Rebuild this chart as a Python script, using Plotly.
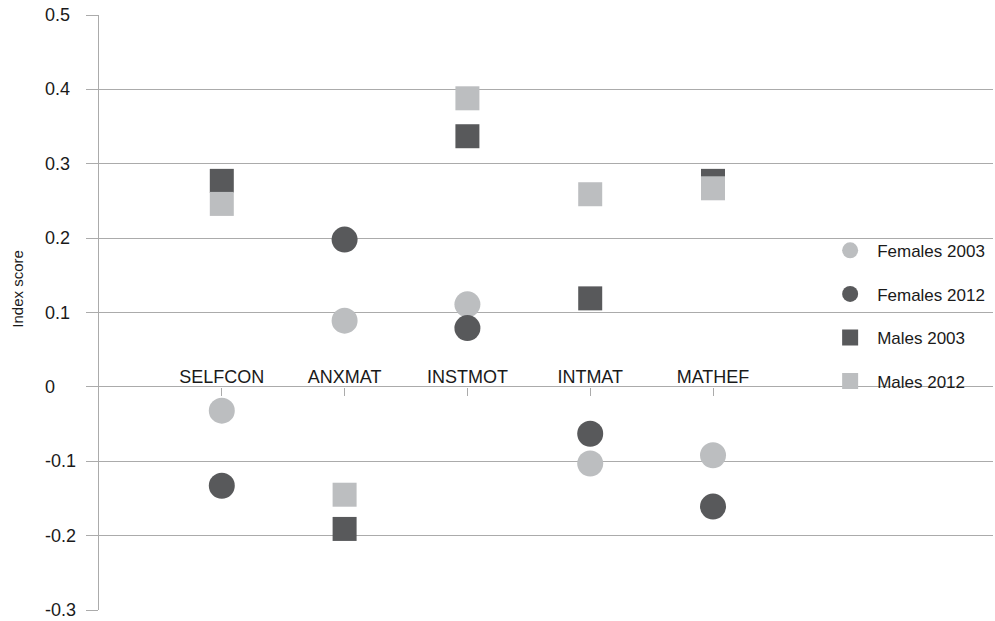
import plotly.graph_objects as go

categories = ["SELFCON", "ANXMAT", "INSTMOT", "INTMAT", "MATHEF"]
cat_pos = [1, 2, 3, 4, 5]

females_2003 = [-0.032, 0.089, 0.111, -0.103, -0.092]
females_2012 = [-0.133, 0.198, 0.079, -0.063, -0.161]
males_2003 = [0.277, -0.191, 0.337, 0.119, 0.277]
males_2012 = [0.246, -0.145, 0.388, 0.259, 0.267]

y_ticks = [0.5, 0.4, 0.3, 0.2, 0.1, 0, -0.1, -0.2, -0.3]
y_tick_labels = ["0.5", "0.4", "0.3", "0.2", "0.1", "0", "-0.1", "-0.2", "-0.3"]
y_min, y_max = -0.3, 0.5
x_max = 7.28

LIGHT = "#bcbec0"
DARK = "#58595b"
GRID = "#ababab"
FONT = "Liberation Sans, Arial, sans-serif"
TXT = "#1a1a1a"

series = [
    ("Females 2003", females_2003, "circle", LIGHT, 26),
    ("Females 2012", females_2012, "circle", DARK, 26),
    ("Males 2003", males_2003, "square", DARK, 24),
    ("Males 2012", males_2012, "square", LIGHT, 24),
]

fig = go.Figure()
for name, vals, sym, col, sz in series:
    fig.add_trace(go.Scatter(
        x=cat_pos, y=vals, mode="markers", name=name, legendgroup=name,
        marker=dict(symbol=sym, color=col, size=sz, line=dict(width=0)),
        xaxis="x", yaxis="y",
    ))

# dummy trace for top category labels axis
fig.add_trace(go.Scatter(x=[None], y=[None], xaxis="x2", yaxis="y",
                         showlegend=False, hoverinfo="skip"))

zero_frac = (0 - y_min) / (y_max - y_min)

annotations = []
for v, lab in zip(y_ticks, y_tick_labels):
    annotations.append(dict(
        x=-0.0626, xref="paper", y=v, yref="y", text=lab, showarrow=False,
        xanchor="left", yanchor="middle", font=dict(family=FONT, size=18, color=TXT),
    ))
annotations.append(dict(
    x=-0.0906, xref="paper", y=0.54, yref="paper", text="Index score",
    showarrow=False, textangle=-90, xanchor="center", yanchor="middle",
    font=dict(family=FONT, size=15, color=TXT),
))

fig.update_layout(
    width=995, height=621,
    margin=dict(l=99, r=2, t=15, b=11),
    paper_bgcolor="white", plot_bgcolor="white",
    font=dict(family=FONT, size=18, color=TXT),
    showlegend=True,
    legend=dict(
        x=0.81, xanchor="left", y=0.634, yanchor="top",
        bgcolor="rgba(0,0,0,0)", tracegroupgap=18.5, itemwidth=44,
        font=dict(family=FONT, size=17, color=TXT),
    ),
    xaxis=dict(
        range=[0, x_max], showgrid=False, zeroline=False, showline=False,
        anchor="free", position=zero_frac,
        tickvals=cat_pos, showticklabels=False,
        ticks="outside", ticklen=8, tickcolor=GRID, tickwidth=1,
    ),
    xaxis2=dict(
        range=[0, x_max], overlaying="x", side="top", anchor="free",
        position=zero_frac, showgrid=False, zeroline=False, showline=False,
        tickvals=cat_pos, ticktext=categories, ticks="",
        tickfont=dict(family=FONT, size=18, color=TXT),
    ),
    yaxis=dict(
        range=[y_min, y_max], tickvals=y_ticks, showticklabels=False,
        showgrid=True, gridcolor=GRID, gridwidth=1, zeroline=False,
        showline=True, linecolor=GRID, linewidth=1,
        ticks="outside", ticklen=12, tickcolor=GRID, tickwidth=1,
    ),
    annotations=annotations,
)

fig.write_html(
    "out.html",
    config={"displayModeBar": False},
    post_script="document.body.style.margin='0px';document.body.style.overflow='hidden';",
)
